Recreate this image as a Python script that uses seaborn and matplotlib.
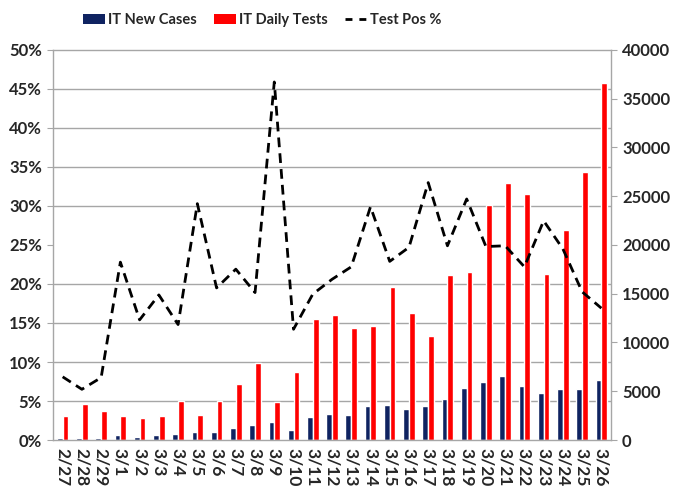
import numpy as np
import pandas as pd
import matplotlib
matplotlib.use("Agg")
import matplotlib.pyplot as plt
from matplotlib.patches import Patch
from matplotlib.lines import Line2D
from matplotlib.ticker import PercentFormatter, MultipleLocator
import seaborn as sns

# data
dates = ["2/27", "2/28", "2/29"] + [f"3/{d}" for d in range(1, 27)]
new_cases = [200, 240, 240, 560, 340, 470, 590, 770, 780, 1250, 1490, 1800, 980, 2310,
             2650, 2550, 3500, 3590, 3230, 3530, 4210, 5320, 5990, 6560, 5560, 4790,
             5250, 5210, 6150]
daily_tests = [2430, 3680, 2970, 2470, 2220, 2510, 3980, 2530, 4000, 5700, 7880, 3890,
               6940, 12390, 12860, 11480, 11680, 15730, 13060, 10700, 16880, 17240,
               24110, 26340, 25180, 17070, 21500, 27480, 36620]
test_pos = [8.1, 6.5, 8.0, 22.8, 15.4, 18.6, 14.8, 30.3, 19.5, 21.9, 18.9, 45.9, 14.2,
            18.7, 20.6, 22.2, 29.9, 22.9, 24.7, 33.0, 24.9, 30.9, 24.8, 24.9, 22.2,
            28.1, 24.5, 19.0, 16.9]

NAVY = "#0f2361"
RED = "#ff0000"
GRAY = "#a6a6a6"

sns.set_style("white")
plt.rcParams["font.family"] = ["Lato", "DejaVu Sans"]
plt.rcParams["font.weight"] = "bold"

df = pd.DataFrame({
    "Date": dates * 2,
    "Value": new_cases + daily_tests,
    "Series": ["IT New Cases"] * len(dates) + ["IT Daily Tests"] * len(dates),
})

fig = plt.figure(figsize=(6.8, 4.93), dpi=100)
ax = fig.add_axes([0.078, 0.1075, 0.8205, 0.7911])

# bars on the right-hand count axis
sns.barplot(data=df, x="Date", y="Value", hue="Series", palette=[NAVY, RED],
            width=0.6, saturation=1, legend=False, ax=ax, zorder=2)
ax.set_ylim(0, 40000)
ax.set_xlim(-0.5, len(dates) - 0.5)
ax.yaxis.set_major_locator(MultipleLocator(5000))
ax.yaxis.set_minor_locator(MultipleLocator(4000))
ax.grid(axis="y", which="minor", color=GRAY, lw=1, zorder=0)
ax.grid(axis="y", which="major", visible=False)
ax.set_axisbelow(True)
ax.set_xlabel("")
ax.set_ylabel("")
ax.set_xticks(np.arange(-0.5, len(dates), 1), minor=True)
ax.tick_params(axis="x", which="major", length=0, labelsize=12.5, labelrotation=-90, pad=6)
ax.tick_params(axis="x", which="minor", length=5, color=GRAY, direction="out")
for s in ax.spines.values():
    s.set_color(GRAY)
    s.set_linewidth(1)

# test positivity line on the left % axis
ax2 = ax.twinx()
sns.lineplot(x=np.arange(len(dates)), y=test_pos, ax=ax2, color="black", lw=2,
             linestyle=(0, (3.5, 2.2)))
ax2.set_ylim(0, 50)
ax2.set_ylabel("")
ax2.yaxis.set_major_locator(MultipleLocator(5))
ax2.yaxis.set_major_formatter(PercentFormatter(100, decimals=0))
for s in ax2.spines.values():
    s.set_visible(False)

# swap sides: counts on the right, percentages on the left
ax.yaxis.tick_right()
ax2.yaxis.tick_left()
ax.tick_params(axis="y", which="major", length=4, color=GRAY, labelsize=12, pad=4)
ax.tick_params(axis="y", which="minor", length=0)
ax2.tick_params(axis="y", length=4, color=GRAY, labelsize=12, pad=4)

handles = [
    Patch(facecolor=NAVY, edgecolor="none"),
    Patch(facecolor=RED, edgecolor="none"),
    Line2D([0], [0], color="black", lw=2, linestyle=(0, (2.5, 2.5))),
]
fig.legend(handles, ["IT New Cases", "IT Daily Tests", "Test Pos %"], loc="center",
           bbox_to_anchor=(0.386, 0.959), ncol=3, frameon=False,
           prop={"size": 10.5, "weight": "bold"},
           handlelength=1.5, handleheight=0.6, handletextpad=0.2, columnspacing=1.2)

fig.savefig("out.png", dpi=100)
